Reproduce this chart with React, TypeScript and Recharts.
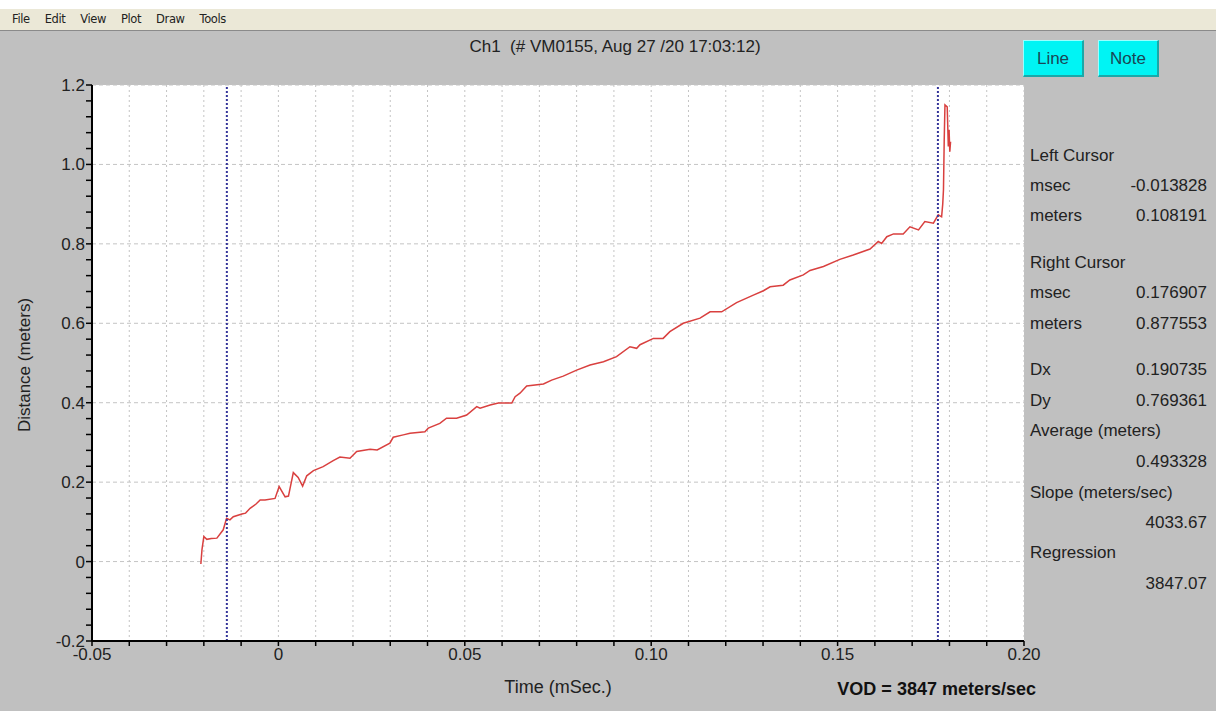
import {
  LineChart,
  Line,
  XAxis,
  YAxis,
  CartesianGrid,
  ReferenceLine,
} from "recharts";

// time (ms) and distance (m)
const timeMs = [
  -0.0208, -0.0205, -0.02, -0.0192, -0.018, -0.0165, -0.0148, -0.0139, -0.013,
  -0.0121, -0.0098, -0.0088, -0.0076, -0.006, -0.0049, -0.0036, -0.0009, 0.0002,
  0.0018, 0.0027, 0.004, 0.0053, 0.0065, 0.0076, 0.0094, 0.012, 0.0147, 0.0165,
  0.0192, 0.021, 0.0246, 0.0265, 0.0299, 0.0308, 0.0335, 0.0353, 0.0393, 0.0402,
  0.0433, 0.0451, 0.0478, 0.0505, 0.0532, 0.0541, 0.0568, 0.059, 0.0626, 0.0635,
  0.0648, 0.0666, 0.0711, 0.0733, 0.0764, 0.08, 0.0836, 0.0872, 0.0907, 0.0943,
  0.0961, 0.097, 0.1006, 0.1032, 0.105, 0.1086, 0.1131, 0.1158, 0.1189, 0.1229,
  0.1274, 0.1301, 0.1319, 0.1354, 0.1372, 0.1408, 0.1426, 0.1462, 0.1506, 0.1542,
  0.1587, 0.1609, 0.1618, 0.1632, 0.165, 0.1676, 0.1694, 0.1717, 0.1734, 0.1757,
  0.177, 0.1779, 0.1782, 0.1784, 0.1786, 0.1788, 0.1794, 0.1797, 0.1799, 0.1801,
  0.1803,
];
const distanceM = [
  -0.006, 0.03, 0.063, 0.056, 0.058, 0.059, 0.08, 0.109, 0.105, 0.113, 0.12, 0.122,
  0.134, 0.145, 0.155, 0.155, 0.159, 0.189, 0.163, 0.165, 0.224, 0.212, 0.19,
  0.216, 0.229, 0.239, 0.254, 0.263, 0.26, 0.277, 0.283, 0.281, 0.298, 0.313,
  0.319, 0.323, 0.327, 0.336, 0.348, 0.361, 0.361, 0.369, 0.39, 0.386, 0.394,
  0.399, 0.399, 0.415, 0.424, 0.442, 0.447, 0.457, 0.467, 0.482, 0.495, 0.503,
  0.516, 0.541, 0.537, 0.546, 0.562, 0.562, 0.579, 0.6, 0.613, 0.629, 0.629,
  0.652, 0.671, 0.682, 0.692, 0.696, 0.709, 0.722, 0.733, 0.743, 0.761, 0.772,
  0.787, 0.806, 0.801, 0.818, 0.825, 0.825, 0.843, 0.835, 0.856, 0.852, 0.873,
  0.868, 0.9, 0.936, 1.062, 1.15, 1.145, 1.045, 1.087, 1.032, 1.057,
];

const cursorsMs = [-0.013828, 0.176907];

const xMajor = [-0.05, 0, 0.05, 0.1, 0.15, 0.2];
const xMajorLabels = ["-0.05", "0", "0.05", "0.10", "0.15", "0.20"];
const yMajor = [-0.2, 0, 0.2, 0.4, 0.6, 0.8, 1.0, 1.2];
const yMajorLabels = ["-0.2", "0", "0.2", "0.4", "0.6", "0.8", "1.0", "1.2"];

const menuItems = ["File", "Edit", "View", "Plot", "Draw", "Tools"];
const panelLabels = [
  "Left Cursor", "msec", "meters", "Right Cursor", "msec", "meters", "Dx", "Dy",
  "Average (meters)", "", "Slope (meters/sec)", "", "Regression", "",
];
const panelValues = [
  "", "-0.013828", "0.108191", "", "0.176907", "0.877553", "0.190735", "0.769361",
  "", "0.493328", "", "4033.67", "", "3847.07",
];

const data = timeMs.map((t, i) => ({ t, d: distanceM[i] }));

const xTicks = Array.from({ length: 26 }, (_, i) => Math.round((-0.05 + i * 0.01) * 1000) / 1000);
const yTicks = Array.from({ length: 36 }, (_, i) => Math.round((-0.2 + i * 0.04) * 1000) / 1000);

const label = (majors: number[], labels: string[]) => (v: number) => {
  const i = majors.findIndex((m) => Math.abs(m - v) < 1e-6);
  return i >= 0 ? labels[i] : "";
};

const FONT = '"Liberation Sans", Arial, sans-serif';
const rowY = [156, 186, 216, 263, 293, 324, 370, 401, 431, 462, 493, 523, 553, 584];

export default function App() {
  return (
    <div
      style={{
        position: "absolute",
        left: 0,
        top: 0,
        width: 1216,
        height: 711,
        background: "#c0c0c0",
        fontFamily: FONT,
        color: "#222",
        overflow: "hidden",
      }}
    >
      <div style={{ position: "absolute", left: 0, top: 0, width: 1216, height: 9, background: "#fff" }} />
      <div
        style={{
          position: "absolute",
          left: 0,
          top: 9,
          width: 1216,
          height: 21,
          background: "#ebe8d7",
          borderBottom: "1px solid #8a8a8a",
          fontSize: 11.5,
          lineHeight: "21px",
          fontFamily: '"DejaVu Sans", sans-serif',
          letterSpacing: -0.4,
        }}
      >
        {menuItems.map((m) => (
          <span key={m} style={{ marginLeft: m === "File" ? 12 : 15 }}>
            {m}
          </span>
        ))}
      </div>

      <div style={{ position: "absolute", left: 365, top: 37, width: 500, textAlign: "center", fontSize: 17 }}>
        Ch1&nbsp;&nbsp;(# VM0155, Aug 27 /20 17:03:12)
      </div>

      {["Line", "Note"].map((b, i) => (
        <div
          key={b}
          style={{
            position: "absolute",
            left: i === 0 ? 1023 : 1098,
            top: 40,
            width: 61,
            height: 37,
            boxSizing: "border-box",
            background: "#00f4f4",
            borderTop: "1px solid #9ff",
            borderLeft: "1px solid #9ff",
            borderRight: "2px solid #1aa8a8",
            borderBottom: "2px solid #1aa8a8",
            textAlign: "center",
            lineHeight: "35px",
            fontSize: 17,
            color: "#1a4654",
          }}
        >
          {b}
        </div>
      ))}

      <div style={{ position: "absolute", left: 0, top: 0 }}>
        <LineChart
          width={1216}
          height={711}
          data={data}
          margin={{ top: 85, right: 192, bottom: 40, left: 32 }}
        >
          <CartesianGrid
            horizontal={false}
            stroke="#c4c4c4"
            strokeDasharray="2 3"
            fill="#ffffff"
            fillOpacity={1}
          />
          {yMajor.slice(1).map((y) => (
            <ReferenceLine key={y} y={y} stroke="#c4c4c4" strokeDasharray="4 3" />
          ))}
          <XAxis
            dataKey="t"
            type="number"
            domain={[-0.05, 0.2]}
            ticks={xTicks}
            interval={0}
            allowDataOverflow
            height={30}
            tickFormatter={label(xMajor, xMajorLabels)}
            axisLine={{ stroke: "#000", strokeWidth: 2 }}
            tickLine={{ stroke: "#000", strokeWidth: 1.5 }}
            tickSize={5}
            tick={{ fontSize: 17, fill: "#222", fontFamily: FONT }}
          />
          <YAxis
            type="number"
            domain={[-0.2, 1.2]}
            ticks={yTicks}
            interval={0}
            allowDataOverflow
            width={60}
            tickFormatter={label(yMajor, yMajorLabels)}
            axisLine={{ stroke: "#000", strokeWidth: 2 }}
            tickLine={{ stroke: "#000", strokeWidth: 1.5 }}
            tickSize={6}
            tickMargin={1}
            tick={{ fontSize: 17, fill: "#222", fontFamily: FONT }}
          />
          <Line
            type="linear"
            dataKey="d"
            stroke="#d9403f"
            strokeWidth={1.5}
            dot={false}
            isAnimationActive={false}
          />
          {cursorsMs.map((x) => (
            <ReferenceLine key={x} x={x} stroke="#35359a" strokeWidth={2} strokeDasharray="2 2" />
          ))}
        </LineChart>
      </div>

      <div
        style={{
          position: "absolute",
          left: 25,
          top: 365,
          transform: "translate(-50%, -50%) rotate(-90deg)",
          whiteSpace: "nowrap",
          fontSize: 17,
        }}
      >
        Distance (meters)
      </div>
      <div style={{ position: "absolute", left: 458, top: 677, width: 200, textAlign: "center", fontSize: 18 }}>
        Time (mSec.)
      </div>
      <div style={{ position: "absolute", left: 780, top: 679, width: 256, textAlign: "right", fontSize: 18, fontWeight: "bold", color: "#111" }}>
        VOD = 3847 meters/sec
      </div>

      {rowY.map((y, i) => (
        <div key={i} style={{ position: "absolute", left: 1030, top: y - 11, width: 177, height: 22, fontSize: 17, lineHeight: "22px" }}>
          <span>{panelLabels[i]}</span>
          <span style={{ position: "absolute", right: 0 }}>{panelValues[i]}</span>
        </div>
      ))}
    </div>
  );
}
